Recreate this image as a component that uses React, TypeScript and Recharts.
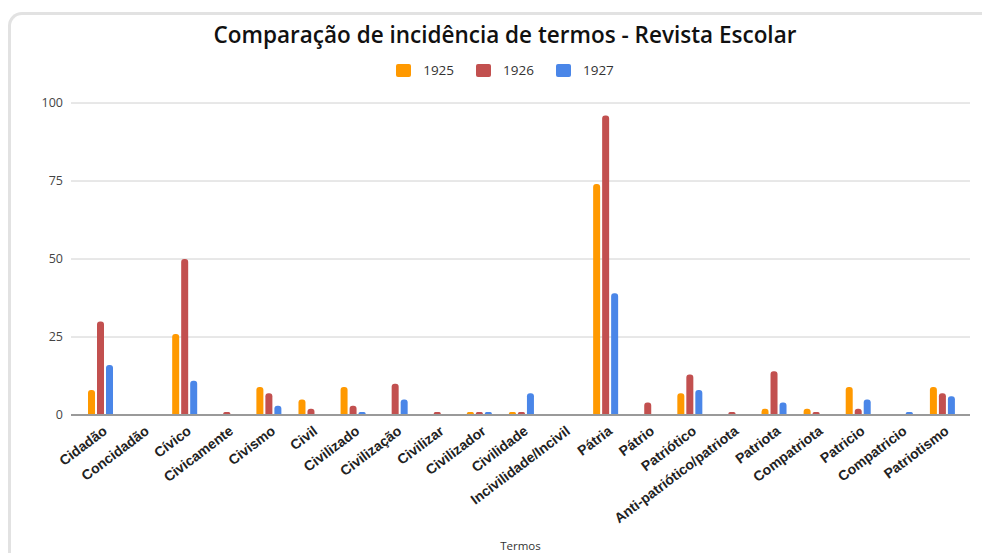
import React from "react";
import { BarChart, Bar, XAxis, YAxis, CartesianGrid } from "recharts";

const TERMS = [
  "Cidadão",
  "Concidadão",
  "Cívico",
  "Civicamente",
  "Civismo",
  "Civil",
  "Civilizado",
  "Civilização",
  "Civilizar",
  "Civilizador",
  "Civilidade",
  "Incivilidade/Incivil",
  "Pátria",
  "Pátrio",
  "Patriótico",
  "Anti-patriótico/patriota",
  "Patriota",
  "Compatriota",
  "Patricio",
  "Compatricio",
  "Patriotismo",
];

const Y1925 = [8, 0, 26, 0, 9, 5, 9, 0, 0, 1, 1, 0, 74, 0, 7, 0, 2, 2, 9, 0, 9];
const Y1926 = [30, 0, 50, 1, 7, 2, 3, 10, 1, 1, 1, 0, 96, 4, 13, 1, 14, 1, 2, 0, 7];
const Y1927 = [16, 0, 11, 0, 3, 0, 1, 5, 0, 1, 7, 0, 39, 0, 8, 0, 4, 0, 5, 1, 6];

const Y_TICKS = [0, 25, 50, 75, 100];

const SERIES = [
  { key: "1925", color: "#ff9900" },
  { key: "1926", color: "#c2504f" },
  { key: "1927", color: "#4a86e8" },
];

const data = TERMS.map((term, i) => ({
  term,
  "1925": Y1925[i],
  "1926": Y1926[i],
  "1927": Y1927[i],
}));

const FONT = "'Open Sans', 'DejaVu Sans', sans-serif";

function TermTick(props: any) {
  const { x, y, payload } = props;
  return (
    <g transform={`translate(${x + 5},${y + 6})`}>
      <text
        x={0}
        y={0}
        dy="0.35em"
        textAnchor="end"
        transform="rotate(-37)"
        fontSize={14}
        fontWeight={600}
        fill="#222"
        fontFamily="'Liberation Sans', Arial, sans-serif"
      >
        {payload.value}
      </text>
    </g>
  );
}

export default function App() {
  return (
    <div
      style={{
        position: "fixed",
        left: 0,
        top: 0,
        width: 982,
        height: 553,
        overflow: "hidden",
        background: "#fff",
        fontFamily: FONT,
      }}
    >
      <div
        style={{
          position: "absolute",
          left: 8,
          top: 12,
          width: 990,
          height: 560,
          borderTop: "3px solid #e2e2e2",
          borderLeft: "3px solid #e2e2e2",
          borderTopLeftRadius: 14,
        }}
      />
      <div
        style={{
          position: "absolute",
          left: 0,
          width: 1010,
          top: 19,
          textAlign: "center",
          fontSize: 22.5,
          fontWeight: 600,
          color: "#111",
        }}
      >
        Comparação de incidência de termos - Revista Escolar
      </div>
      <div
        style={{
          position: "absolute",
          left: 0,
          width: 1010,
          top: 61,
          display: "flex",
          justifyContent: "center",
          gap: 22,
          fontSize: 13.5,
          color: "#333",
        }}
      >
        {SERIES.map((s) => (
          <div key={s.key} style={{ display: "flex", alignItems: "center", gap: 12 }}>
            <span
              style={{
                width: 15,
                height: 13,
                background: s.color,
                borderRadius: 2,
                display: "inline-block",
              }}
            />
            <span>{s.key}</span>
          </div>
        ))}
      </div>
      <div style={{ position: "absolute", left: 0, top: 0 }}>
        <BarChart
          width={982}
          height={553}
          data={data}
          margin={{ top: 103, right: 12, bottom: 3, left: 11 }}
          barSize={7}
          barGap={2}
        >
          <CartesianGrid vertical={false} stroke="#d0d0d0" />
          <XAxis
            dataKey="term"
            interval={0}
            height={135}
            tickLine={false}
            axisLine={{ stroke: "#9a9a9a", strokeWidth: 2 }}
            padding={{ left: 8, right: 7 }}
            tick={<TermTick />}
            label={{
              value: "Termos",
              position: "insideBottom",
              offset: 0,
              fontSize: 11.5,
              fill: "#333",
            }}
          />
          <YAxis
            width={60}
            domain={[0, 100]}
            ticks={Y_TICKS}
            tickLine={false}
            axisLine={false}
            tick={{ fontSize: 12.5, fill: "#444" }}
          />
          {SERIES.map((s) => (
            <Bar
              key={s.key}
              dataKey={s.key}
              fill={s.color}
              radius={[3, 3, 0, 0]}
              isAnimationActive={false}
            />
          ))}
        </BarChart>
      </div>
    </div>
  );
}
